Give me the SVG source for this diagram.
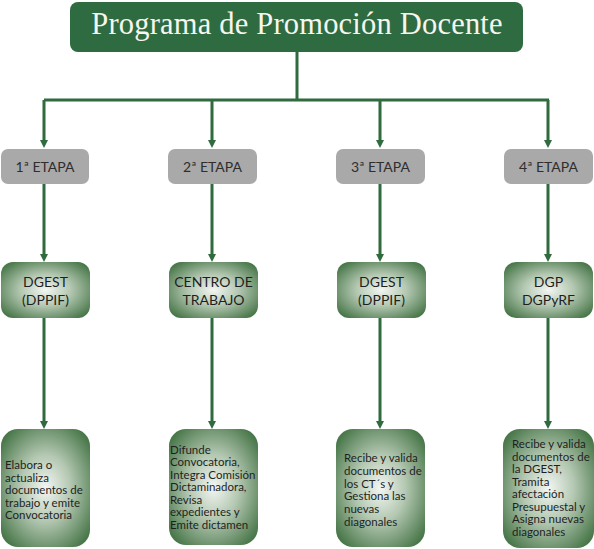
<svg xmlns="http://www.w3.org/2000/svg" width="594" height="549" viewBox="0 0 594 549">
<defs>
<radialGradient id="g" cx="50%" cy="50%" r="62%">
<stop offset="0" stop-color="#f3f6f2"/>
<stop offset="0.45" stop-color="#b4c8b2"/>
<stop offset="1" stop-color="#4a784b"/>
</radialGradient>
<style>
.title{font-family:"Liberation Serif","DejaVu Serif",serif;font-size:30.5px;letter-spacing:0.2px;fill:#f6f6ef;text-anchor:middle}
.etapa{fill:#a9a9a9}
.et{font-family:Lato,"Liberation Sans",sans-serif;font-size:14px;fill:#2e2e2e;text-anchor:middle}
.mid{fill:url(#g)}
.mt{font-family:Lato,"Liberation Sans",sans-serif;font-size:14px;fill:#1f1f1f;text-anchor:middle}
.bt{font-family:Lato,"Liberation Sans",sans-serif;font-size:11.5px;fill:#1f1f1f}
.ln{stroke:#2f6b3d;stroke-width:3;fill:none}
.hd{fill:#2f6b3d}
</style>
</defs>
<g id="connectors">
<path class="ln" d="M297,52 V100 M44,100 H549"/>
<path class="ln" d="M44,100 V141 M212,100 V141 M380,100 V141 M548,100 V141"/>
<path class="hd" d="M40,140 h8 l-4,8 z M208,140 h8 l-4,8 z M376,140 h8 l-4,8 z M544,140 h8 l-4,8 z"/>
<path class="ln" d="M44,184 V255 M212,184 V255 M380,184 V255 M548,184 V255"/>
<path class="hd" d="M40,254 h8 l-4,8 z M208,254 h8 l-4,8 z M376,254 h8 l-4,8 z M544,254 h8 l-4,8 z"/>
<path class="ln" d="M44,318 V422 M212,318 V422 M380,318 V422 M548,318 V422"/>
<path class="hd" d="M40,421 h8 l-4,8 z M208,421 h8 l-4,8 z M376,421 h8 l-4,8 z M544,421 h8 l-4,8 z"/>
</g>
<g id="title">
<rect x="70" y="2" width="453" height="50" rx="8" fill="#2f6b41"/>
<text class="title" x="297" y="34">Programa de Promoción Docente</text>
</g>
<g id="etapa1"><rect class="etapa" x="1" y="149" width="88" height="35" rx="7"/><text class="et" x="45" y="172">1ª ETAPA</text></g>
<g id="etapa2"><rect class="etapa" x="168" y="149" width="89" height="35" rx="7"/><text class="et" x="212.5" y="172">2ª ETAPA</text></g>
<g id="etapa3"><rect class="etapa" x="336" y="149" width="89" height="35" rx="7"/><text class="et" x="380.5" y="172">3ª ETAPA</text></g>
<g id="etapa4"><rect class="etapa" x="504" y="149" width="89" height="35" rx="7"/><text class="et" x="548.5" y="172">4ª ETAPA</text></g>
<g id="org1"><rect class="mid" x="1" y="262" width="89" height="56" rx="12"/><text class="mt" x="45.5" y="287">DGEST</text><text class="mt" x="45.5" y="305">(DPPIF)</text></g>
<g id="org2"><rect class="mid" x="169" y="262" width="89" height="56" rx="12"/><text class="mt" x="213.5" y="287">CENTRO DE</text><text class="mt" x="213.5" y="305">TRABAJO</text></g>
<g id="org3"><rect class="mid" x="337" y="262" width="89" height="56" rx="12"/><text class="mt" x="381.5" y="287">DGEST</text><text class="mt" x="381.5" y="305">(DPPIF)</text></g>
<g id="org4"><rect class="mid" x="504" y="262" width="89" height="56" rx="12"/><text class="mt" x="548.5" y="287">DGP</text><text class="mt" x="548.5" y="305">DGPyRF</text></g>
<g id="act1"><rect class="mid" x="1" y="429" width="89" height="118" rx="17"/>
<text class="bt" x="5" y="469"><tspan x="5">Elabora o</tspan><tspan x="5" dy="12.6">actualiza</tspan><tspan x="5" dy="12.6">documentos de</tspan><tspan x="5" dy="12.6">trabajo y emite</tspan><tspan x="5" dy="12.6">Convocatoria</tspan></text></g>
<g id="act2"><rect class="mid" x="169" y="429" width="89" height="116" rx="17"/>
<text class="bt" x="170" y="453.7"><tspan x="170">Difunde</tspan><tspan x="170" dy="12.5">Convocatoria,</tspan><tspan x="170" dy="12.5">Integra Comisión</tspan><tspan x="170" dy="12.5">Dictaminadora,</tspan><tspan x="170" dy="12.5">Revisa</tspan><tspan x="170" dy="12.5">expedientes y</tspan><tspan x="170" dy="12.5">Emite dictamen</tspan></text></g>
<g id="act3"><rect class="mid" x="336" y="429" width="89" height="118" rx="17"/>
<text class="bt" x="344" y="462"><tspan x="344">Recibe y valida</tspan><tspan x="344" dy="12.8">documentos de</tspan><tspan x="344" dy="12.8">los CT´s y</tspan><tspan x="344" dy="12.8">Gestiona las</tspan><tspan x="344" dy="12.8">nuevas</tspan><tspan x="344" dy="12.8">diagonales</tspan></text></g>
<g id="act4"><rect class="mid" x="503" y="429" width="91" height="119" rx="17"/>
<text class="bt" x="512" y="448"><tspan x="512">Recibe y valida</tspan><tspan x="512" dy="12.5">documentos de</tspan><tspan x="512" dy="12.5">la DGEST,</tspan><tspan x="512" dy="12.5">Tramita</tspan><tspan x="512" dy="12.5">afectación</tspan><tspan x="512" dy="12.5">Presupuestal y</tspan><tspan x="512" dy="12.5">Asigna nuevas</tspan><tspan x="512" dy="12.5">diagonales</tspan></text></g>
</svg>
